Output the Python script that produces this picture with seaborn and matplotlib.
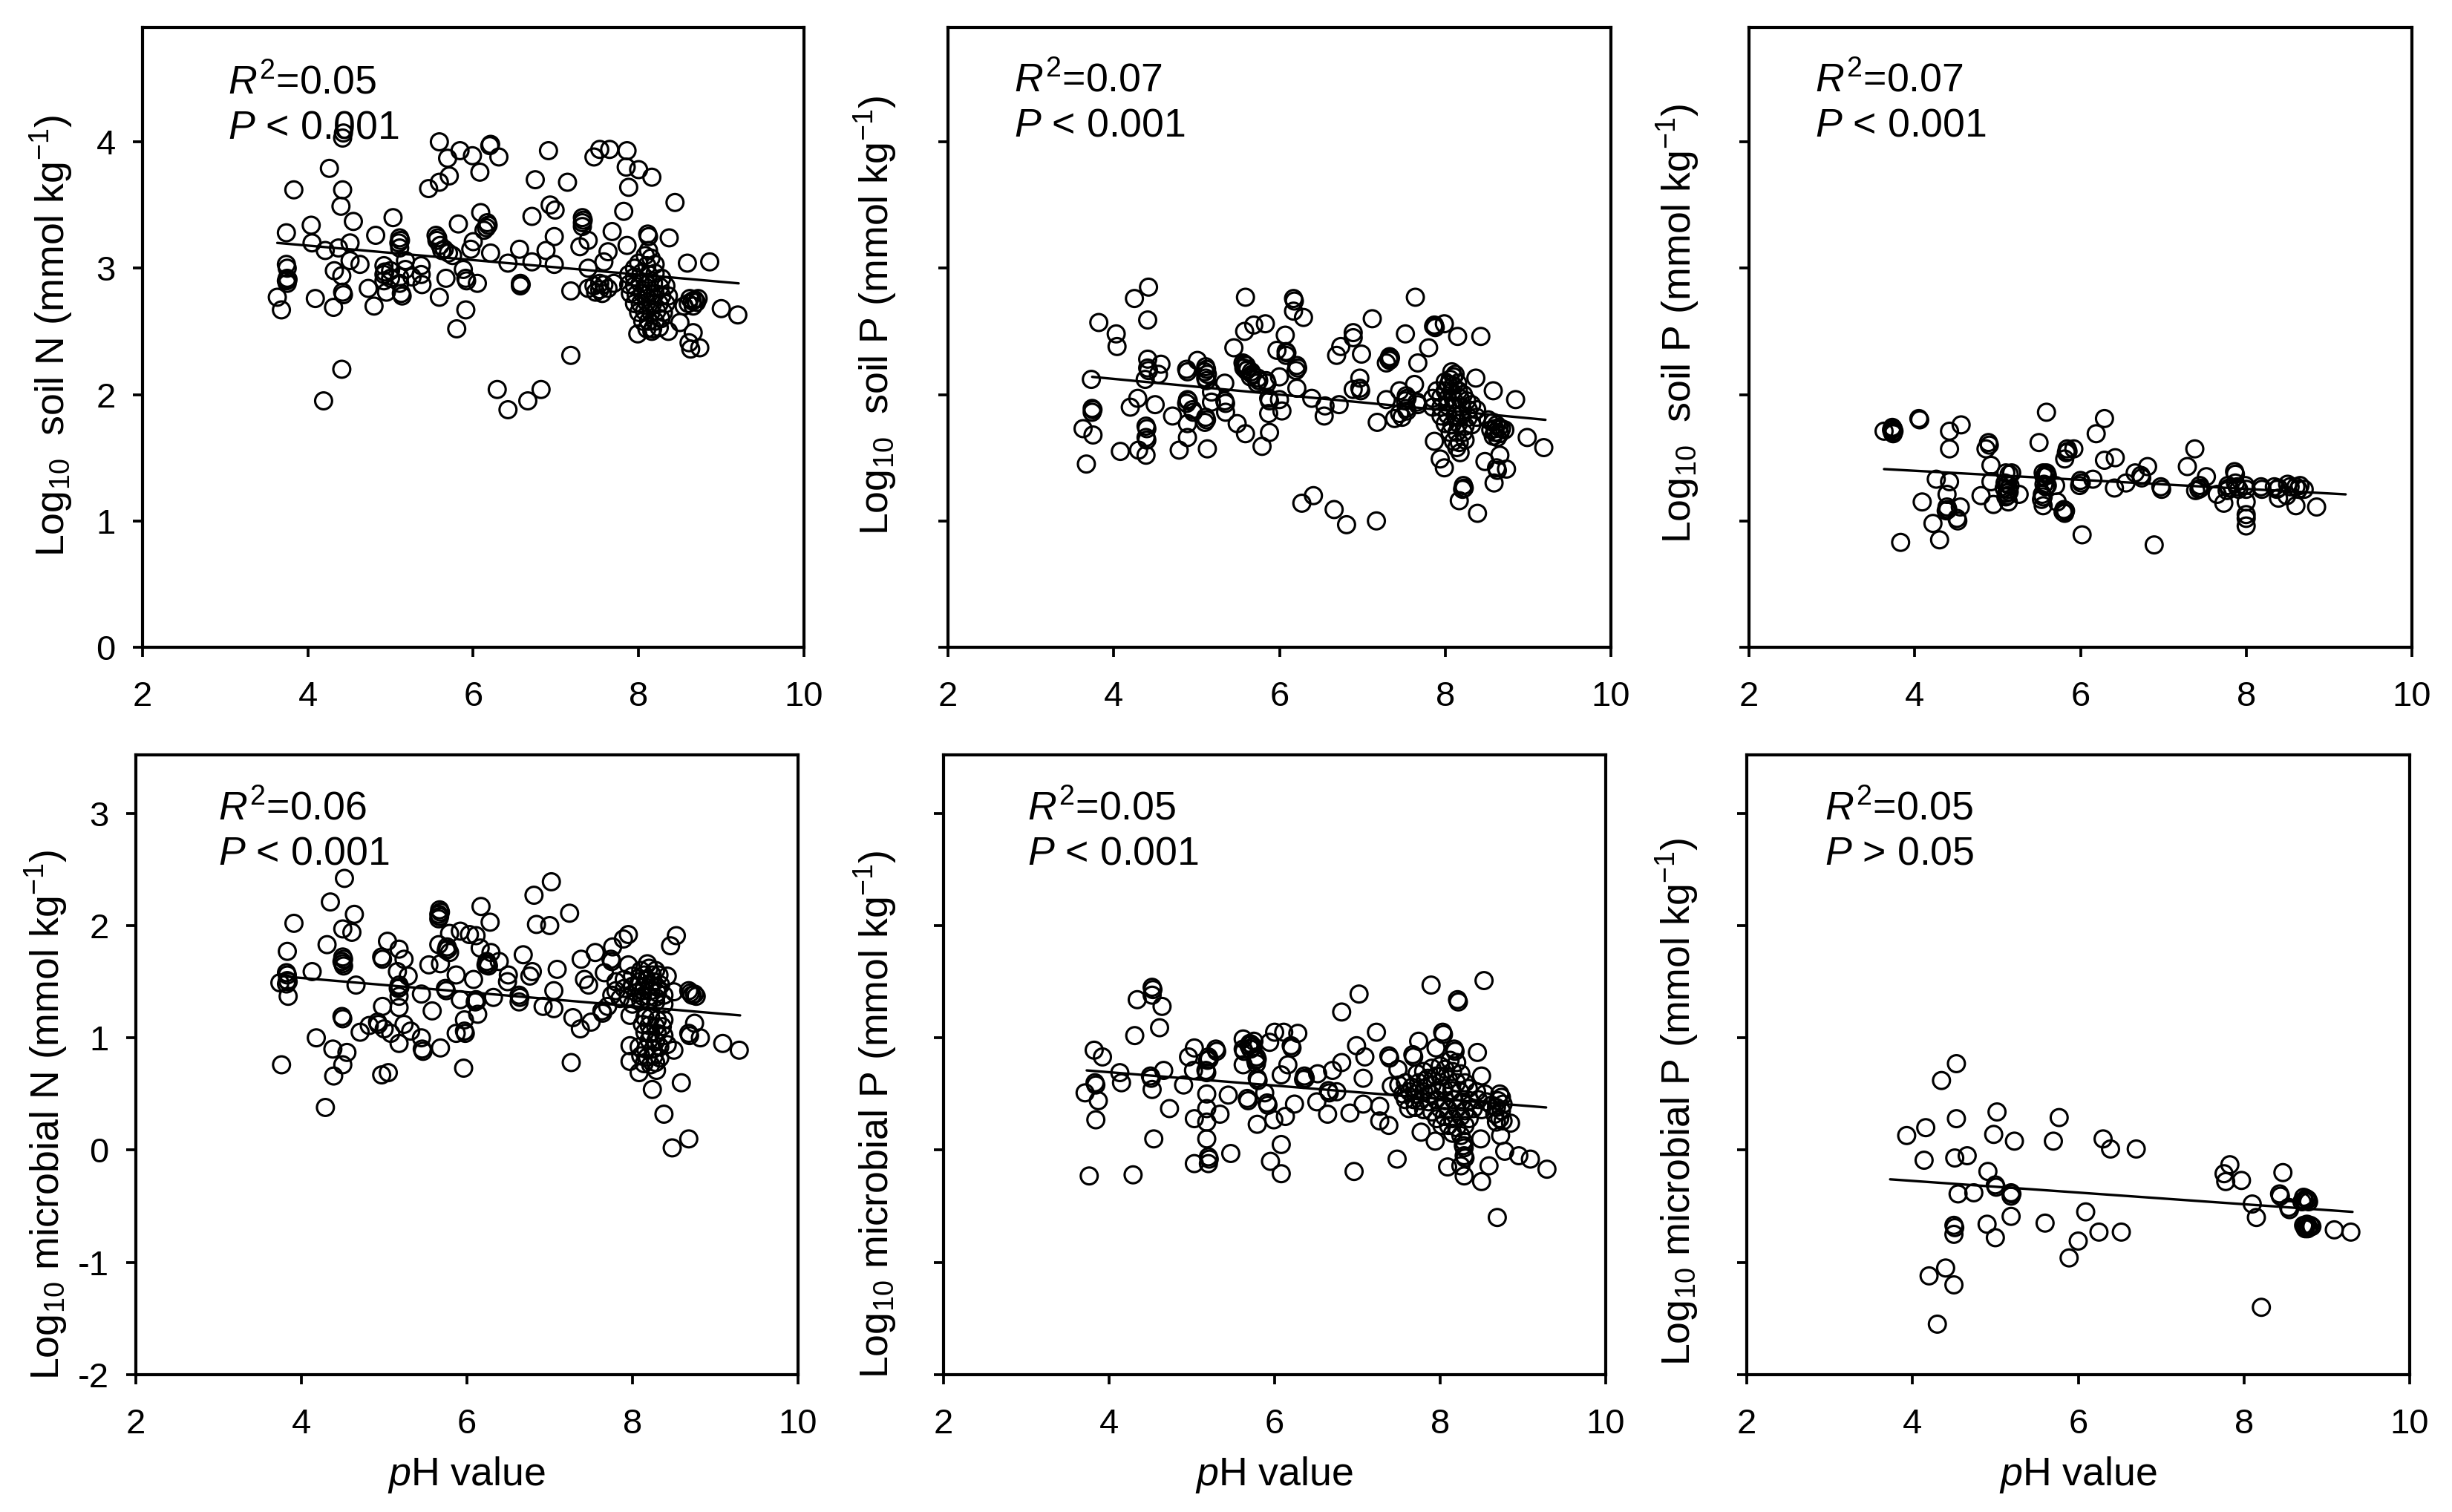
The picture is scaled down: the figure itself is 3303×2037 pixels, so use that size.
import matplotlib
matplotlib.use("Agg")
import matplotlib.pyplot as plt
import pandas as pd
import seaborn as sns

sns.set_theme(style="white")
plt.rcParams.update({
    "font.family": ["Liberation Sans", "DejaVu Sans"],
    "mathtext.fontset": "custom",
    "mathtext.rm": "Liberation Sans",
    "mathtext.it": "Liberation Sans:italic",
    "mathtext.bf": "Liberation Sans:bold",
    "axes.unicode_minus": False,
})

soil_n_pts = [
(4.42,4.03),(4.43,4.07),(5.59,4.0),(5.84,3.93),(5.99,3.89),(6.2,3.97),(6.21,3.98),(6.31,3.88),(5.69,3.87),(6.08,3.76),(5.71,3.73),(5.59,3.68),(5.46,3.63),
(6.91,3.93),(7.46,3.88),(7.53,3.94),(7.65,3.94),(7.86,3.93),(7.85,3.80),(8.0,3.78),(8.16,3.72),(7.88,3.64),(6.75,3.70),(7.14,3.68),(4.26,3.79),(3.83,3.62),
(4.42,3.62),(4.4,3.49),(4.55,3.37),(5.03,3.4),(8.44,3.52),(7.82,3.45),(6.93,3.5),(6.99,3.46),(6.71,3.41),(6.09,3.44),(5.82,3.35),(6.17,3.36),(6.18,3.34),(6.16,3.32),(6.13,3.30),
(7.32,3.40),(7.33,3.38),(7.32,3.36),(7.32,3.33),(4.04,3.34),(3.74,3.28),(4.82,3.26),(5.11,3.24),(5.12,3.22),(5.1,3.2),(5.11,3.16),(5.55,3.26),(5.57,3.24),(5.56,3.22),(5.6,3.18),(5.65,3.15),(5.7,3.12),(5.75,3.1),(5.62,3.14),
(6.98,3.25),(7.68,3.29),(8.11,3.27),(8.12,3.25),(8.37,3.24),(7.39,3.22),(7.29,3.17),(7.86,3.18),(7.63,3.13),(6.88,3.14),(6.56,3.15),(6.21,3.12),(6.0,3.21),(5.97,3.15),
(4.05,3.2),(4.21,3.14),(4.51,3.2),(4.37,3.16),(8.86,3.05),(8.59,3.04),(7.58,3.05),(6.98,3.03),(6.71,3.05),(6.42,3.04),(7.39,3.0),
(3.74,3.03),(3.75,3.0),(3.75,2.92),(3.76,2.91),(3.74,2.9),(3.75,2.88),(4.32,2.98),(4.41,2.94),(4.63,3.03),(4.51,3.06),
(4.92,3.02),(4.92,2.95),(4.93,2.97),(4.92,2.9),(5.11,2.93),(5.18,3.06),(5.18,2.99),(5.37,3.02),(5.37,2.95),(5.11,2.88),(5.26,2.93),(5.0,2.98),(5.0,2.92),
(5.38,2.87),(5.67,2.92),(5.88,2.99),(5.91,2.92),(5.92,2.9),(6.05,2.88),(6.57,2.88),(6.58,2.87),(6.57,2.86),(7.18,2.82),
(4.73,2.84),(5.13,2.8),(5.14,2.78),(4.95,2.81),(5.59,2.77),(4.42,2.81),(4.43,2.79),(4.09,2.76),(4.31,2.69),(4.8,2.7),(3.63,2.77),(3.68,2.67),(5.91,2.67),(5.8,2.52),
(4.41,2.2),(4.19,1.95),(7.18,2.31),(6.29,2.04),(6.82,2.04),(6.66,1.95),(6.42,1.88),(9.0,2.68),(9.2,2.63),
(7.39,2.84),(7.46,2.86),(7.53,2.83),(7.58,2.87),(7.63,2.84),(7.7,2.88),(7.53,2.88),(7.48,2.81),(7.56,2.8),
(8.12,3.14),(8.08,3.1),(8.15,3.08),(7.95,3.0),(8.0,3.04),(8.1,3.02),(8.2,3.03),(7.88,2.95),(7.95,2.93),(8.03,2.96),(8.12,2.95),(8.2,2.96),(8.28,2.92),(7.88,2.87),(7.95,2.86),(8.02,2.88),(8.1,2.87),(8.18,2.88),(8.26,2.85),(8.33,2.86),
(7.9,2.8),(7.97,2.79),(8.05,2.8),(8.13,2.8),(8.2,2.8),(8.28,2.78),(8.36,2.78),(7.95,2.72),(8.02,2.72),(8.1,2.73),(8.17,2.72),(8.25,2.72),(8.33,2.72),(8.0,2.65),(8.07,2.66),(8.15,2.65),(8.22,2.66),(8.3,2.65),
(8.05,2.58),(8.12,2.58),(8.2,2.58),(8.27,2.6),(8.1,2.52),(8.17,2.52),(8.25,2.53),
(8.62,2.76),(8.65,2.74),(8.68,2.75),(8.7,2.73),(8.6,2.72),(8.66,2.7),(8.72,2.76),(8.55,2.7),(8.5,2.57),(8.66,2.49),(8.61,2.41),(8.63,2.36),(8.74,2.37),(8.36,2.5),(7.99,2.48),(8.16,2.5),
]
soil_p_pts = [
(4.42,2.85),(4.25,2.76),(5.59,2.77),(6.17,2.76),(6.18,2.74),(7.64,2.77),(3.82,2.57),(4.41,2.59),(4.03,2.48),(4.04,2.38),(6.17,2.66),(6.29,2.61),(7.12,2.6),(5.69,2.55),(5.83,2.56),(5.58,2.5),(6.07,2.47),
(7.99,2.56),(7.86,2.54),(7.87,2.55),(7.88,2.53),(7.52,2.48),(8.15,2.46),(8.43,2.46),(6.89,2.49),(6.89,2.45),(6.74,2.38),(6.69,2.31),(6.99,2.32),(5.45,2.37),(5.97,2.35),(6.08,2.34),(6.09,2.33),(6.08,2.31),(7.8,2.37),
(7.33,2.3),(7.34,2.29),(7.32,2.28),(7.33,2.27),(7.29,2.25),(7.67,2.25),(4.41,2.28),(4.57,2.24),(4.41,2.21),(4.42,2.19),(4.54,2.16),(4.38,2.12),(3.73,2.12),(5.01,2.27),(4.88,2.2),(4.89,2.18),
(5.11,2.22),(5.12,2.2),(5.1,2.18),(5.13,2.16),(5.11,2.13),(5.12,2.11),(5.34,2.09),(5.18,2.02),(5.56,2.25),(5.58,2.24),(5.6,2.23),(5.57,2.21),(5.6,2.19),(5.62,2.2),(5.66,2.18),(5.67,2.16),(5.65,2.14),(5.74,2.13),(5.75,2.11),(5.73,2.09),(5.84,2.11),(5.85,2.09),
(6.21,2.23),(6.22,2.21),(6.2,2.19),(6.0,2.14),(6.21,2.05),(6.97,2.13),(6.89,2.04),(6.97,2.05),(6.98,2.03),(6.39,1.97),(6.72,1.92),(6.55,1.91),(6.54,1.83),(7.18,1.78),(7.29,1.96),(7.39,1.81),(7.45,2.03),(7.63,2.08),
(7.53,1.99),(7.54,1.97),(7.52,1.95),(7.53,1.89),(7.54,1.87),(7.45,1.85),(7.48,1.82),(7.66,1.94),(7.67,1.92),(8.37,2.13),(8.58,2.03),(8.85,1.96),(8.99,1.66),(9.19,1.58),(7.87,1.63),(7.94,1.49),(7.99,1.42),(8.18,1.54),(8.48,1.47),(8.66,1.52),(8.62,1.42),(8.63,1.4),(8.74,1.41),(8.59,1.3),
(8.22,1.28),(8.23,1.26),(8.21,1.25),(8.17,1.16),(8.39,1.06),(6.41,1.2),(6.27,1.14),(6.66,1.09),(6.81,0.97),(7.17,1.0),
(4.2,1.9),(4.29,1.97),(4.5,1.92),(3.74,1.89),(3.75,1.88),(3.74,1.86),(3.63,1.73),(3.75,1.68),(3.67,1.45),(4.08,1.55),(4.3,1.56),(4.39,1.75),(4.4,1.73),(4.39,1.66),(4.4,1.64),(4.39,1.52),(4.79,1.56),(5.13,1.57),(4.89,1.66),(4.89,1.77),(4.71,1.83),
(4.89,1.96),(4.9,1.95),(4.88,1.93),(4.95,1.88),(4.96,1.86),(5.11,1.82),(5.12,1.8),(5.1,1.78),(5.18,1.94),(5.34,1.95),(5.35,1.93),(5.35,1.86),(5.49,1.77),(5.59,1.69),(5.88,1.7),(5.79,1.59),(5.87,1.85),(6.03,1.87),(5.87,1.97),(5.88,1.95),(6.0,1.96),
(8.08,2.18),(8.1,2.14),(8.06,2.12),(8.12,2.16),(8.0,2.1),(8.04,2.08),(8.1,2.07),(8.15,2.09),(7.9,2.03),(8.0,2.03),(8.08,2.02),(8.16,2.03),(8.22,2.0),(7.85,1.97),(7.95,1.98),(8.03,1.97),(8.1,1.96),(8.18,1.97),(8.26,1.95),(8.32,1.92),
(7.85,1.9),(7.95,1.9),(8.03,1.91),(8.12,1.9),(8.2,1.9),(8.28,1.88),(8.38,1.88),(7.95,1.83),(8.03,1.84),(8.12,1.83),(8.2,1.84),(8.28,1.82),(8.38,1.82),(8.0,1.77),(8.08,1.76),(8.16,1.77),(8.24,1.75),(8.32,1.76),(8.06,1.7),(8.14,1.7),(8.22,1.7),(8.1,1.63),(8.17,1.62),(8.24,1.64),(8.14,1.58),
(8.52,1.8),(8.58,1.78),(8.62,1.76),(8.65,1.74),(8.6,1.73),(8.68,1.73),(8.55,1.72),(8.6,1.7),(8.66,1.69),(8.72,1.72),(8.58,1.67),(8.63,1.66),
]
soil_p2_pts = [
(3.73,1.74),(3.74,1.73),(3.72,1.72),(3.73,1.7),(3.74,1.69),(3.75,1.71),(3.63,1.71),(4.05,1.81),(4.06,1.8),(4.56,1.76),(4.42,1.71),(4.42,1.57),(4.89,1.62),(4.9,1.6),(4.86,1.57),(4.92,1.44),(5.59,1.86),(5.5,1.62),(6.29,1.81),(6.19,1.69),
(5.84,1.57),(5.85,1.55),(5.83,1.54),(5.92,1.57),(5.81,1.49),(6.42,1.5),(6.29,1.48),(6.81,1.43),(6.66,1.38),(6.73,1.36),(6.74,1.34),(6.55,1.3),(6.41,1.26),(6.97,1.27),(6.98,1.25),(7.38,1.57),(7.29,1.43),(7.52,1.35),(7.86,1.39),(7.87,1.37),
(4.26,1.33),(4.42,1.31),(4.39,1.21),(4.09,1.15),(4.39,1.11),(4.4,1.09),(4.38,1.08),(4.55,1.11),(4.51,1.02),(4.52,1.0),(4.22,0.98),(3.83,0.83),(4.3,0.85),(6.02,0.89),(6.89,0.81),
(4.92,1.31),(4.8,1.2),(4.95,1.13),(5.1,1.38),(5.14,1.37),(5.17,1.38),(5.09,1.3),(5.12,1.29),(5.15,1.28),(5.08,1.26),(5.13,1.25),(5.11,1.22),(5.14,1.23),(5.12,1.2),(5.1,1.19),(5.26,1.21),(5.13,1.15),
(5.55,1.38),(5.58,1.37),(5.6,1.36),(5.56,1.35),(5.59,1.38),(5.56,1.29),(5.58,1.27),(5.6,1.28),(5.7,1.28),(5.54,1.21),(5.55,1.19),(5.53,1.17),(5.55,1.12),(5.72,1.15),(5.8,1.09),(5.82,1.08),(5.81,1.06),(5.79,1.07),(6.0,1.32),(6.01,1.3),(5.99,1.28),(6.15,1.33),
(7.44,1.28),(7.45,1.26),(7.43,1.25),(7.39,1.24),(7.65,1.21),(7.73,1.14),(8.0,1.15),(8.0,1.05),(8.0,1.02),(8.0,0.96),(7.78,1.28),(7.79,1.26),(7.77,1.24),(7.87,1.3),(7.89,1.27),(7.91,1.25),(7.99,1.28),(8.0,1.25),(8.18,1.27),(8.19,1.25),
(8.34,1.27),(8.37,1.25),(8.39,1.26),(8.5,1.29),(8.53,1.27),(8.6,1.27),(8.63,1.25),(8.65,1.28),(8.39,1.18),(8.6,1.12),(8.85,1.11),(8.7,1.25),(8.49,1.2),
]
mic_n_pts = [
(4.52,2.42),(4.35,2.21),(4.64,2.1),(3.91,2.02),(4.5,1.97),(4.61,1.94),(4.31,1.83),(3.83,1.77),(4.5,1.72),(4.51,1.7),(4.49,1.68),(4.5,1.66),(4.51,1.64),(4.13,1.59),(3.82,1.58),(3.83,1.56),(3.74,1.49),(3.83,1.51),(3.84,1.5),(3.82,1.48),(3.84,1.37),(4.66,1.47),
(7.02,2.39),(6.81,2.27),(7.24,2.11),(6.84,2.01),(7.0,2.0),(6.17,2.17),(6.28,2.03),(5.67,2.14),(5.68,2.12),(5.66,2.1),(5.67,2.08),(5.66,2.06),(5.79,1.93),(5.92,1.95),(6.03,1.92),(6.11,1.91),(5.66,1.83),(5.76,1.81),(5.77,1.79),(5.75,1.78),(5.79,1.76),
(6.16,1.8),(6.29,1.76),(6.24,1.68),(6.25,1.66),(6.23,1.65),(6.26,1.64),(6.39,1.68),(6.68,1.74),(5.54,1.65),(5.68,1.66),(5.04,1.86),(5.18,1.79),(5.24,1.7),(4.97,1.72),(4.98,1.7),(5.16,1.59),(5.29,1.55),(5.87,1.56),(6.08,1.52),(6.5,1.56),(6.79,1.59),(6.76,1.55),(7.09,1.61),
(7.38,1.7),(7.55,1.76),(7.76,1.81),(7.89,1.88),(7.95,1.92),(8.53,1.91),(8.46,1.82),(7.74,1.7),(7.75,1.68),(7.95,1.65),(8.18,1.66),(7.66,1.58),(7.42,1.52),(7.47,1.47),(7.05,1.42),(6.63,1.38),(6.64,1.36),(6.63,1.32),(6.49,1.5),(6.32,1.36),(6.11,1.34),(6.12,1.33),(6.1,1.32),(6.13,1.21),(5.92,1.34),(5.74,1.44),(5.75,1.42),
(5.45,1.39),(5.18,1.47),(5.19,1.45),(5.17,1.44),(5.18,1.37),(5.18,1.27),(4.98,1.28),(5.58,1.24),(4.49,1.19),(4.5,1.17),(5.97,1.16),(5.97,1.06),(5.98,1.04),(5.87,1.04),(6.92,1.28),(7.05,1.26),(7.28,1.18),(7.37,1.08),(7.5,1.14),(7.63,1.24),(7.64,1.22),
(4.71,1.05),(4.82,1.11),(4.92,1.14),(4.93,1.12),(5.0,1.08),(5.08,1.04),(5.24,1.12),(5.32,1.06),(5.18,0.95),(5.45,1.0),(5.46,0.9),(5.47,0.88),(5.68,0.91),(4.18,1.0),(4.38,0.9),(4.55,0.87),(4.5,0.76),(4.39,0.66),(3.76,0.76),(4.97,0.67),(5.05,0.69),(5.96,0.73),(7.26,0.78),(4.29,0.38),(8.24,0.54),(8.59,0.6),(8.38,0.32),(8.68,0.1),(8.48,0.02),
(7.8,1.5),(7.9,1.52),(8.0,1.55),(8.1,1.6),(8.2,1.62),(8.28,1.6),(8.32,1.56),(7.8,1.42),(7.9,1.44),(8.0,1.46),(8.08,1.5),(8.17,1.52),(8.25,1.5),(8.34,1.47),(7.85,1.35),(7.95,1.36),(8.05,1.4),(8.13,1.42),(8.22,1.42),(8.3,1.4),(8.38,1.38),(8.0,1.3),(8.1,1.33),(8.2,1.33),(8.28,1.32),(8.38,1.3),
(8.68,1.42),(8.7,1.4),(8.72,1.38),(8.75,1.39),(8.77,1.37),(8.5,1.41),(8.42,1.55),(8.75,1.13),(8.68,1.04),(8.69,1.02),(8.82,1.0),(9.09,0.95),(9.29,0.89),(8.5,0.89),(7.97,1.2),(7.97,0.93),(7.97,0.79),(8.29,0.71),(8.08,0.69),
(8.15,1.18),(8.22,1.18),(8.3,1.16),(8.38,1.16),(8.12,1.12),(8.2,1.11),(8.28,1.1),(8.36,1.1),(8.15,1.05),(8.22,1.04),(8.3,1.04),(8.38,1.02),(8.2,0.98),(8.28,0.97),(8.08,0.92),(8.16,0.9),(8.25,0.9),(8.33,0.92),(8.42,0.94),(8.1,0.84),(8.18,0.83),(8.26,0.84),(8.33,0.82),(8.14,0.77),(8.22,0.76),(8.28,0.78),
(8.14,1.56),(8.24,1.56),(8.06,1.46),(8.14,1.46),(8.22,1.47),(8.3,1.45),(8.12,1.37),(8.2,1.37),(8.28,1.36),(7.75,1.38),(7.7,1.28),
]
mic_p_pts = [
(8.53,1.51),(7.89,1.47),(8.21,1.34),(8.22,1.32),(7.02,1.39),(6.81,1.23),(4.52,1.45),(4.53,1.43),(4.52,1.38),(4.34,1.34),(4.64,1.28),(4.61,1.09),(4.31,1.02),(3.82,0.89),(3.92,0.83),(7.23,1.05),(6.99,0.93),(7.09,0.83),(7.38,0.84),(7.39,0.82),(7.49,0.72),(6.81,0.78),(6.7,0.71),(6.52,0.68),
(6.36,0.66),(6.37,0.64),(6.35,0.63),(7.07,0.64),(7.41,0.57),(6.0,1.05),(6.11,1.05),(6.28,1.04),(6.2,0.93),(6.21,0.91),(5.94,0.96),(6.16,0.76),(6.08,0.67),(5.79,0.64),(5.8,0.62),(5.62,0.99),(5.7,0.95),(5.72,0.94),(5.74,0.92),(5.71,0.9),(5.75,0.97),(5.69,0.93),(5.62,0.9),(5.63,0.88),(5.78,0.83),(5.79,0.81),(5.77,0.8),(5.62,0.76),(5.78,0.77),
(5.03,0.91),(4.96,0.83),(5.29,0.9),(5.3,0.88),(5.2,0.83),(5.21,0.81),(5.19,0.8),(5.02,0.71),(5.17,0.71),(5.18,0.69),(4.66,0.71),(4.13,0.69),(4.15,0.6),(4.5,0.66),(4.51,0.64),(4.52,0.54),(4.9,0.58),(3.83,0.6),(3.84,0.58),(3.71,0.51),(3.87,0.44),(3.84,0.27),(4.73,0.37),(5.18,0.5),(5.44,0.49),(5.67,0.46),(5.68,0.44),(5.88,0.51),(5.91,0.42),(5.92,0.4),(6.24,0.41),(6.51,0.43),(6.65,0.53),(6.66,0.51),(6.75,0.52),
(5.18,0.37),(5.03,0.28),(5.34,0.32),(5.18,0.25),(5.18,0.1),(4.54,0.1),(5.79,0.23),(5.99,0.27),(6.13,0.3),(6.64,0.32),(6.91,0.33),(7.07,0.41),(7.27,0.39),(7.27,0.26),(7.38,0.22),(6.08,0.05),(5.47,-0.03),(5.95,-0.1),(6.08,-0.21),(5.03,-0.12),(5.2,-0.06),(5.21,-0.08),(5.2,-0.12),(3.76,-0.23),(4.29,-0.22),(6.96,-0.19),(7.48,-0.08),
(7.77,0.16),(7.94,0.08),(7.62,0.37),(7.74,0.97),(8.03,1.05),(8.04,1.03),(7.95,0.91),(7.67,0.85),(7.68,0.83),(8.45,0.87),(8.5,0.66),(8.17,0.9),(8.18,0.88),(8.49,0.1),(8.73,0.13),(8.85,0.24),(8.78,-0.01),(8.95,-0.05),(9.09,-0.08),(9.29,-0.17),(8.59,-0.14),(8.5,-0.28),(8.29,-0.23),(8.09,-0.15),(8.25,-0.14),(8.29,-0.05),(8.3,-0.07),(8.28,0.04),(8.29,0.02),(8.69,-0.6),
(7.5,0.58),(7.58,0.6),(7.66,0.56),(7.74,0.6),(7.82,0.62),(7.9,0.58),(7.55,0.5),(7.63,0.52),(7.7,0.5),(7.8,0.52),(7.88,0.5),(7.96,0.53),(7.58,0.45),(7.68,0.45),(7.76,0.44),(7.86,0.43),(7.95,0.45),
(8.12,0.8),(8.2,0.78),(8.06,0.72),(8.15,0.7),(8.25,0.68),(8.0,0.66),(8.1,0.63),(8.2,0.6),(8.3,0.6),(8.04,0.55),(8.14,0.53),(8.24,0.52),(8.34,0.55),(8.44,0.52),(8.54,0.5),(8.06,0.44),(8.16,0.45),(8.26,0.43),(8.36,0.44),(8.46,0.45),(8.56,0.43),
(8.0,0.37),(8.1,0.36),(8.2,0.37),(8.3,0.35),(8.4,0.37),(8.5,0.36),(8.05,0.3),(8.15,0.28),(8.25,0.3),(8.35,0.28),(8.1,0.22),(8.2,0.2),(8.3,0.22),(8.15,0.15),(8.25,0.13),(8.28,0.08),
(8.72,0.5),(8.74,0.47),(8.7,0.44),(8.76,0.41),(8.68,0.38),(8.74,0.35),(8.66,0.32),(8.72,0.28),(8.76,0.26),(8.68,0.25),(8.62,0.4),
(7.8,0.7),(7.9,0.73),(8.0,0.75),(7.72,0.68),(7.85,0.64),(7.95,0.66),(7.7,0.38),(7.8,0.36),(7.9,0.34),(7.96,0.28),(8.02,0.22),
]
mic_p2_pts = [
(4.53,0.77),(4.35,0.62),(5.02,0.34),(4.53,0.28),(5.77,0.29),(4.16,0.2),(3.93,0.13),(4.98,0.14),(5.23,0.08),(5.7,0.08),(6.3,0.1),(6.39,0.01),(6.7,0.01),(4.14,-0.09),(4.51,-0.07),(4.66,-0.05),(4.91,-0.19),(7.83,-0.13),(7.76,-0.21),(7.78,-0.28),(7.97,-0.27),(8.47,-0.2),(5.0,-0.31),(5.01,-0.33),(4.55,-0.39),(4.74,-0.38),
(5.19,-0.38),(5.2,-0.39),(5.19,-0.41),(8.1,-0.48),(8.43,-0.39),(8.44,-0.41),(8.54,-0.51),(8.55,-0.53),(8.72,-0.42),(8.75,-0.43),(8.77,-0.44),(8.73,-0.45),(8.78,-0.46),(8.7,-0.46),(8.15,-0.6),
(8.72,-0.67),(8.74,-0.68),(8.76,-0.66),(8.78,-0.69),(8.8,-0.67),(8.82,-0.68),(8.77,-0.7),(8.74,-0.7),(9.09,-0.71),(9.29,-0.73),(6.09,-0.55),(5.19,-0.59),(5.6,-0.65),(4.9,-0.66),(5.0,-0.78),(4.5,-0.67),(4.51,-0.69),(4.5,-0.75),(6.25,-0.73),(6.52,-0.73),(6.0,-0.81),(5.89,-0.96),(4.4,-1.05),(4.2,-1.12),(4.5,-1.2),(8.21,-1.4),(4.3,-1.55),
]

line_soil_n = [(3.63, 3.20), (9.21, 2.88)]
line_soil_p = [(3.74, 2.14), (9.21, 1.80)]
line_soil_p2 = [(3.63, 1.41), (9.20, 1.21)]
line_mic_n = [(3.74, 1.55), (9.30, 1.20)]
line_mic_p = [(3.73, 0.71), (9.28, 0.38)]
line_mic_p2 = [(3.73, -0.26), (9.31, -0.55)]

x_ticks = [2, 4, 6, 8, 10]
top_y_ticks = [0, 1, 2, 3, 4]
bottom_y_ticks = [-2, -1, 0, 1, 2, 3]

W, H = 3303, 2037
panels = [
    dict(pts=soil_n_pts, line=line_soil_n, box=(192, 1083, 37, 872), yl=(0, 4.905), yt=top_y_ticks, lab=True,
         ylabel=r"Log$_{10}$  soil N (mmol kg$^{-1}$)", yc=(-0.137, 0.502), r2="0.05", p="< 0.001", tx=0.129, ty=(0.911, 0.838)),
    dict(pts=soil_p_pts, line=line_soil_p, box=(1277, 2170, 37, 872), yl=(0, 4.905), yt=top_y_ticks, lab=False,
         ylabel=r"Log$_{10}$  soil P (mmol kg$^{-1}$)", yc=(-0.109, 0.535), r2="0.07", p="< 0.001", tx=0.10, ty=(0.914, 0.841)),
    dict(pts=soil_p2_pts, line=line_soil_p2, box=(2356, 3249, 37, 872), yl=(0, 4.905), yt=top_y_ticks, lab=False,
         ylabel=r"Log$_{10}$  soil P (mmol kg$^{-1}$)", yc=(-0.107, 0.522), r2="0.07", p="< 0.001", tx=0.10, ty=(0.914, 0.841)),
    dict(pts=mic_n_pts, line=line_mic_n, box=(183, 1075, 1017, 1852), yl=(-2, 3.52), yt=bottom_y_ticks, lab=True,
         ylabel=r"Log$_{10}$ microbial N (mmol kg$^{-1}$)", yc=(-0.135, 0.42), r2="0.06", p="< 0.001", tx=0.125, ty=(0.913, 0.84)),
    dict(pts=mic_p_pts, line=line_mic_p, box=(1271, 2163, 1017, 1852), yl=(-2, 3.52), yt=bottom_y_ticks, lab=False,
         ylabel=r"Log$_{10}$ microbial P (mmol kg$^{-1}$)", yc=(-0.102, 0.42), r2="0.05", p="< 0.001", tx=0.127, ty=(0.913, 0.84)),
    dict(pts=mic_p2_pts, line=line_mic_p2, box=(2353, 3246, 1017, 1852), yl=(-2, 3.52), yt=bottom_y_ticks, lab=False,
         ylabel=r"Log$_{10}$ microbial P (mmol kg$^{-1}$)", yc=(-0.104, 0.44), r2="0.05", p="> 0.05", tx=0.118, ty=(0.913, 0.84)),
]

FS = 11.3
FS_TXT = 12.9
fig = plt.figure(figsize=(W / 300, H / 300), dpi=300, facecolor="white")
for i, pn in enumerate(panels):
    l, r, t, b = pn["box"]
    ax = fig.add_axes([l / W, 1 - b / H, (r - l) / W, (b - t) / H])
    df = pd.DataFrame(pn["pts"], columns=["ph", "value"])
    ln = pd.DataFrame(pn["line"], columns=["ph", "value"])
    sns.scatterplot(data=df, x="ph", y="value", ax=ax, s=30, facecolor="none",
                    edgecolor="black", linewidth=0.75, zorder=3, clip_on=False)
    sns.lineplot(data=ln, x="ph", y="value", ax=ax, color="black", lw=0.8,
                 errorbar=None, sort=False, zorder=2)
    ax.set_xlim(2, 10)
    ax.set_ylim(*pn["yl"])
    ax.set_xticks(x_ticks)
    ax.set_yticks(pn["yt"])
    if not pn["lab"]:
        ax.set_yticklabels([])
    ax.tick_params(axis="both", which="major", direction="out", length=3.2, width=0.9,
                   labelsize=FS, color="black", labelcolor="black", bottom=True, left=True)
    ax.tick_params(axis="x", pad=7.5)
    ax.tick_params(axis="y", pad=5.5)
    for s in ax.spines.values():
        s.set_visible(True)
        s.set_color("black")
        s.set_linewidth(1.0)
    ax.set_ylabel(pn["ylabel"], fontsize=FS_TXT, color="black", va="center", ha="center")
    ax.yaxis.set_label_coords(*pn["yc"])
    if i >= 3:
        ax.set_xlabel(r"$\mathit{p}$H value", fontsize=FS_TXT, color="black", va="center", ha="center")
        ax.xaxis.set_label_coords(0.5, -0.162)
    else:
        ax.set_xlabel("")
    ax.text(pn["tx"], pn["ty"][0], r"$\mathit{R}^{2}$=" + pn["r2"], transform=ax.transAxes,
            fontsize=FS_TXT, color="black", va="center", ha="left", zorder=5)
    ax.text(pn["tx"], pn["ty"][1], r"$\mathit{P}$ " + pn["p"], transform=ax.transAxes,
            fontsize=FS_TXT, color="black", va="center", ha="left", zorder=5)

fig.savefig("out.png", dpi=300, facecolor="white")
